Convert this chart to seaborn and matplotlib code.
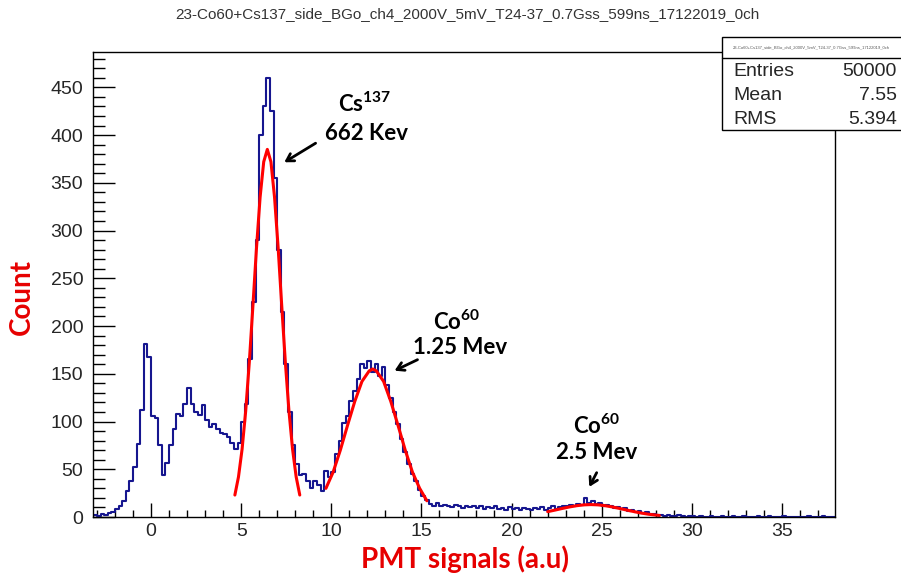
import numpy as np
import pandas as pd
import matplotlib
matplotlib.use("Agg")
import matplotlib.pyplot as plt
import seaborn as sns
from matplotlib.patches import Rectangle
from matplotlib.lines import Line2D
from matplotlib.ticker import MultipleLocator

# histogram bins (width 0.2, from -3.2 to 38.0), counts
bin_start = -3.2
bin_width = 0.2
counts = [
    2, 1, 3, 2, 4,
    5, 8, 11, 17, 27,
    38, 52, 76, 112, 181,
    168, 106, 104, 75, 44,
    57, 75, 92, 108, 106,
    118, 135, 118, 110, 107,
    117, 102, 94, 97, 92,
    88, 87, 84, 77, 71,
    78, 100, 118, 165, 225,
    290, 400, 430, 460, 425,
    355, 280, 215, 160, 110,
    75, 55, 44, 45, 38,
    30, 38, 34, 27, 48,
    42, 47, 66, 80, 98,
    106, 122, 132, 145, 160,
    156, 163, 152, 160, 148,
    157, 138, 125, 110, 97,
    82, 68, 55, 45, 38,
    28, 22, 18, 14, 12,
    15, 11, 13, 12, 10,
    13, 11, 9, 12, 10,
    11, 9, 12, 8, 10,
    9, 11, 8, 9, 7,
    10, 8, 9, 7, 9,
    8, 7, 9, 8, 10,
    7, 9, 11, 8, 10,
    12, 11, 13, 12, 14,
    13, 20, 15, 17, 14,
    15, 12, 13, 11, 9,
    10, 8, 9, 6, 7,
    5, 6, 4, 5, 3,
    3, 2, 2, 1, 2,
    1, 1, 2, 1, 0,
    1, 1, 0, 1, 0,
    0, 1, 0, 0, 1,
    0, 0, 1, 0, 0,
    1, 0, 0, 0, 1,
    0, 0, 1, 0, 0,
    0, 1, 0, 0, 0,
    0, 0, 0, 1, 0,
    0, 0, 1, 0, 0,
    0,
]

# red fit curves
cs_fit_x = [4.65, 4.85, 5.05, 5.25, 5.45, 5.65, 5.85, 6.05, 6.25, 6.45,
            6.65, 6.85, 7.05, 7.25, 7.45, 7.65, 7.85, 8.05, 8.25]
cs_fit_y = [23, 42, 71, 111, 162, 221, 282, 335, 372, 385,
            372, 335, 282, 221, 162, 111, 71, 42, 23]

co1_fit_x = [9.7, 10.1, 10.5, 10.9, 11.3, 11.7, 12.1, 12.3, 12.5, 12.9,
             13.3, 13.7, 14.1, 14.5, 14.9, 15.3]
co1_fit_y = [30, 47, 70, 96, 121, 142, 153, 155, 153, 142,
             121, 96, 70, 47, 30, 17]

co2_fit_x = [22.0, 22.4, 22.8, 23.2, 23.6, 24.0, 24.4, 24.8, 25.2, 25.6,
             26.0, 26.4, 26.8, 27.2, 27.6, 28.0, 28.2]
co2_fit_y = [5.6, 7.2, 8.9, 10.5, 11.8, 12.7, 13.0, 12.7, 11.8, 10.5,
             8.9, 7.2, 5.6, 4.1, 2.9, 2.0, 1.6]

title = "23-Co60+Cs137_side_BGo_ch4_2000V_5mV_T24-37_0.7Gss_599ns_17122019_0ch"
stats_names = ["Entries", "Mean", "RMS"]
stats_values = ["50000", "7.55", "5.394"]

sns.set_style("white")
plt.rcParams["font.family"] = ["Liberation Sans", "DejaVu Sans"]
plt.rcParams["mathtext.fontset"] = "custom"
plt.rcParams["mathtext.bf"] = "Lato:bold"
plt.rcParams["mathtext.rm"] = "Lato:bold"

W, H = 901, 579
fig = plt.figure(figsize=(W / 100, H / 100), dpi=100)
ax = fig.add_axes([93 / W, 1 - 517 / H, (835 - 93) / W, (517 - 52) / H])

nbins = len(counts)
bin_end = bin_start + bin_width * nbins
hist_df = pd.DataFrame({
    "signal": bin_start + bin_width * (np.arange(nbins) + 0.5),
    "count": counts,
})
sns.histplot(data=hist_df, x="signal", weights="count", bins=nbins,
             binrange=(bin_start, bin_end), element="step", fill=False,
             color="#16168f", linewidth=1.5, ax=ax)

for fx, fy in [(cs_fit_x, cs_fit_y), (co1_fit_x, co1_fit_y), (co2_fit_x, co2_fit_y)]:
    sns.lineplot(x=fx, y=fy, color="#ff0000", linewidth=2.2, ax=ax, estimator=None)

ax.set_xlim(-3.22, 37.94)
ax.set_ylim(0, 487)
ax.xaxis.set_major_locator(MultipleLocator(5))
ax.xaxis.set_minor_locator(MultipleLocator(1))
ax.yaxis.set_major_locator(MultipleLocator(50))
ax.yaxis.set_minor_locator(MultipleLocator(10))
ax.tick_params(which="both", bottom=True, left=True, top=False, right=False,
               direction="in", color="black", width=1)
ax.tick_params(axis="x", which="major", length=10, labelsize=14, pad=4)
ax.tick_params(axis="x", which="minor", length=5)
ax.tick_params(axis="y", which="major", length=16, labelsize=14, pad=7)
ax.tick_params(axis="y", which="minor", length=8.5)
for sp in ax.spines.values():
    sp.set_color("black")
    sp.set_linewidth(1)

ax.set_xlabel("PMT signals (a.u)", fontsize=20, fontweight="bold", color="#e60000",
              fontfamily="Lato")
ax.xaxis.set_label_coords(0.501, -0.062)
ax.set_ylabel("Count", fontsize=20, fontweight="bold", color="#e60000", fontfamily="Lato")
ax.yaxis.set_label_coords(-0.078, 0.473)

# peak annotations
lab = dict(ha="center", va="center", fontsize=16, fontweight="bold", color="black",
           fontfamily="Lato")
ax.text(11.87, 433, r"$\mathbf{Cs^{137}}$", **lab)
ax.text(11.93, 402, "662 Kev", **lab)
ax.text(16.97, 204, r"$\mathbf{Co^{60}}$", **lab)
ax.text(17.14, 177, "1.25 Mev", **lab)
ax.text(24.73, 95, r"$\mathbf{Co^{60}}$", **lab)
ax.text(24.73, 68, "2.5 Mev", **lab)
arrow = dict(arrowstyle="->,head_length=0.5,head_width=0.3", color="black", lw=2)
ax.annotate("", xy=(7.26, 370), xytext=(9.26, 393), arrowprops=arrow)
ax.annotate("", xy=(13.37, 152), xytext=(14.92, 166), arrowprops=arrow)
ax.annotate("", xy=(24.24, 29), xytext=(24.79, 49), arrowprops=arrow)

# title and stats box
fig.text(467 / W, 1 - 14 / H, title, ha="center", va="center", fontsize=11, color="#333333")
fig.add_artist(Rectangle((722 / W, 1 - 130 / H), (W + 5 - 722) / W, (130 - 37) / H,
                         transform=fig.transFigure, facecolor="white", edgecolor="black",
                         linewidth=1, zorder=10))
fig.add_artist(Line2D([722 / W, 1.0], [1 - 58 / H] * 2, transform=fig.transFigure,
                      color="black", linewidth=1, zorder=11))
fig.text(811 / W, 1 - 47 / H, title, ha="center", va="center", fontsize=3,
         color="#555555", zorder=12)
for i, (n, v) in enumerate(zip(stats_names, stats_values)):
    y = 1 - (72 + 23.5 * i) / H
    fig.text(733 / W, y, n, ha="left", va="center", fontsize=14, zorder=12)
    fig.text(897 / W, y, v, ha="right", va="center", fontsize=14, zorder=12)

fig.savefig("out.png", dpi=100, facecolor="white")
